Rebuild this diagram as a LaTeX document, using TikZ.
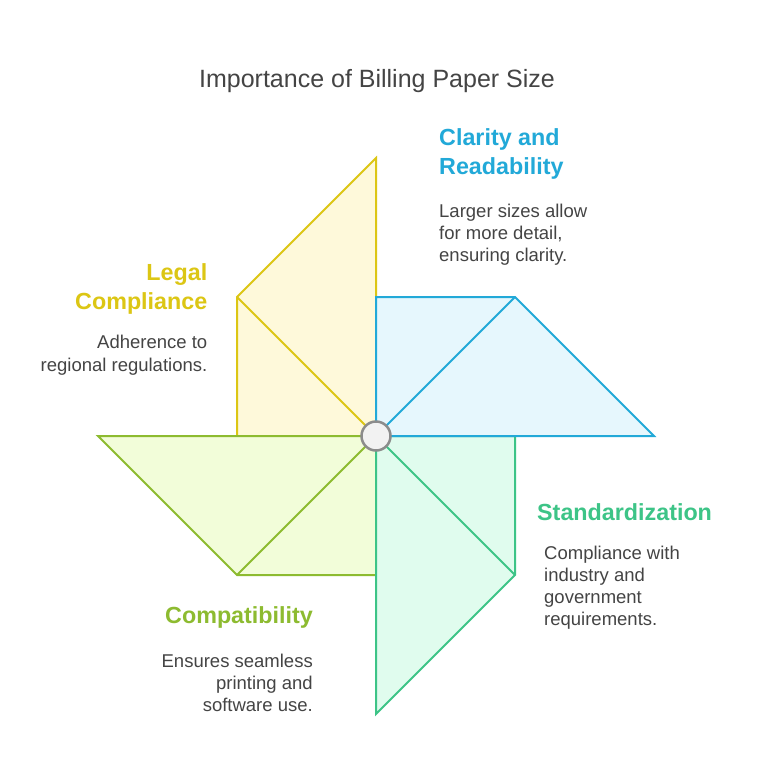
\documentclass[tikz,border=0pt]{standalone}
\usepackage{fontspec}
\setmainfont{Liberation Sans}
\definecolor{ylS}{HTML}{DCC614}
\definecolor{ylF}{HTML}{FEF9DA}
\definecolor{blS}{HTML}{22A9D8}
\definecolor{blF}{HTML}{E6F7FD}
\definecolor{grS}{HTML}{3DC487}
\definecolor{grF}{HTML}{E0FCEE}
\definecolor{lmS}{HTML}{8DBB30}
\definecolor{lmF}{HTML}{F2FDD9}
\definecolor{txt}{HTML}{444444}
\tikzset{
  blade/.style={line width=2pt, line join=miter},
  head/.style={inner sep=0pt, font=\fontsize{23.3}{29.5}\selectfont\bfseries},
  body/.style={inner sep=0pt, text=txt, font=\fontsize{18.5}{22.2}\selectfont},
}
\begin{document}
\begin{tikzpicture}[x=1pt,y=-1pt]
\useasboundingbox[fill=white] (0,0) rectangle (760,784);
% coordinates
\coordinate (C) at (376,436);
\coordinate (Y1) at (376,158); \coordinate (Y2) at (237,297); \coordinate (Y3) at (237,436);
\coordinate (L1) at (98,436); \coordinate (L2) at (376,575); \coordinate (L3) at (237,575);
\coordinate (G1) at (515,436); \coordinate (G2) at (515,575); \coordinate (G3) at (376,714);
\coordinate (B1) at (376,297); \coordinate (B2) at (515,297); \coordinate (B3) at (654,436);
% blades
\draw[blade, draw=ylS, fill=ylF] (Y1) -- (Y2) -- (Y3) -- (C) -- cycle;
\draw[blade, draw=ylS] (Y2) -- (C);
\draw[blade, draw=lmS, fill=lmF] (L1) -- (C) -- (L2) -- (L3) -- cycle;
\draw[blade, draw=lmS] (L3) -- (C);
\draw[blade, draw=grS, fill=grF] (C) -- (G1) -- (G2) -- (G3) -- cycle;
\draw[blade, draw=grS] (G2) -- (C);
\draw[blade, draw=blS, fill=blF] (B1) -- (B2) -- (B3) -- (C) -- cycle;
\draw[blade, draw=blS] (B2) -- (C);
\node[circle, draw={rgb,255:red,140;green,140;blue,140}, fill={rgb,255:red,242;green,242;blue,242}, line width=2.5pt, minimum size=29pt, inner sep=0pt] (hub) at (C) {};
% title
\node[inner sep=0pt, text=txt, font=\fontsize{25}{30}\selectfont, anchor=base] (title) at (377,88) {Importance of Billing Paper Size};
% texts (base anchor = baseline of last line)
\node[head, text=blS, anchor=base west, align=left] (h1) at (439,174.5) {Clarity and\\Readability};
\node[body, anchor=base west, align=left] (b1) at (439,261.7) {Larger sizes allow\\for more detail,\\ensuring clarity.};
\node[head, text=ylS, anchor=base east, align=right] (h2) at (207.5,309.5) {Legal\\Compliance};
\node[body, anchor=base east, align=right] (b2) at (207.5,371) {Adherence to\\regional regulations.};
\node[head, text=grS, anchor=base west, align=left] (h3) at (537,520) {Standardization};
\node[body, anchor=base west, align=left] (b3) at (544,625.6) {Compliance with\\industry and\\government\\requirements.};
\node[head, text=lmS, anchor=base east, align=right] (h4) at (313,623.5) {Compatibility};
\node[body, anchor=base east, align=right] (b4) at (313,711.5) {Ensures seamless\\printing and\\software use.};
\end{tikzpicture}
\end{document}
